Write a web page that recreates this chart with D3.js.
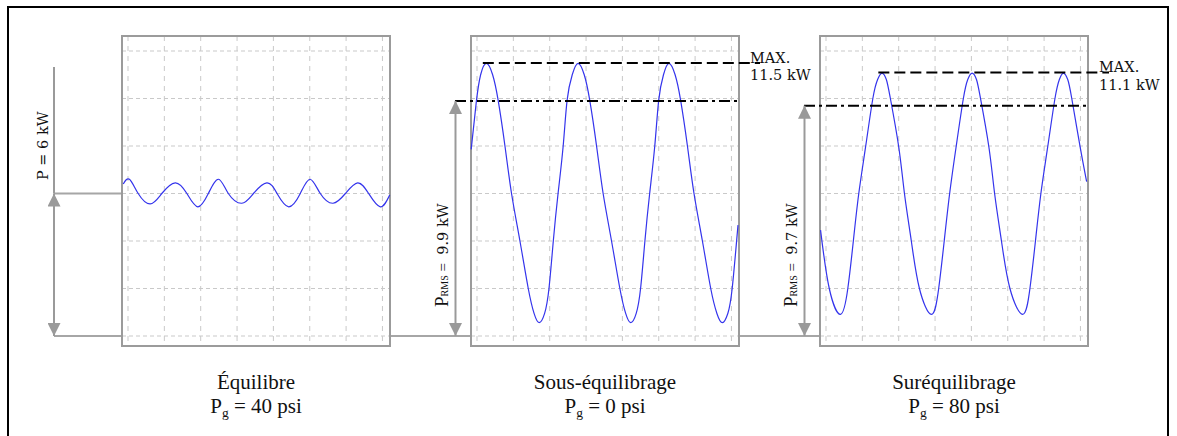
<!DOCTYPE html>
<html>
<head>
<meta charset="utf-8">
<script src="https://cdn.jsdelivr.net/npm/d3@7"></script>
<style>
  html, body { margin: 0; padding: 0; background: #fff; }
  svg { display: block; }
</style>
</head>
<body>
<svg id="chart" width="1177" height="436"></svg>
<script>
// ---- data -------------------------------------------------------------
const panelNames = ["Équilibre", "Sous-équilibrage", "Suréquilibrage"];
const gaugePsi = [40, 0, 80];          // gas pressure P_g, psi
const rmsKW = [6, 9.9, 9.7];           // mean / RMS power, kW
const peakKW = [null, 11.5, 11.1];     // annotated maximum, kW

// power traces: [time in screen divisions, power in kW]
const traceBalanced = [
  [-0.13, 6.4], [0.04, 6.6], [0.28, 6.0], [0.61, 5.56], [0.93, 6.0],
  [1.30, 6.45], [1.62, 6.0], [1.92, 5.44], [2.21, 6.0], [2.49, 6.6],
  [2.76, 6.0], [3.13, 5.59], [3.45, 6.0], [3.82, 6.45], [4.10, 6.0],
  [4.42, 5.44], [4.74, 6.0], [5.01, 6.6], [5.29, 6.0], [5.64, 5.59],
  [5.98, 6.0], [6.32, 6.45], [6.62, 6.0], [6.94, 5.44], [7.20, 5.94]
];
const traceUnder = [
  [-0.16, 7.86], [-0.02, 9.85], [0.10, 11.0], [0.26, 11.48], [0.43, 11.0],
  [0.58, 9.94], [0.77, 7.99], [0.95, 6.0], [1.18, 4.01], [1.41, 2.0],
  [1.57, 0.95], [1.71, 0.56], [1.86, 0.95], [1.98, 2.0], [2.10, 4.01],
  [2.23, 6.0], [2.37, 7.99], [2.48, 9.94], [2.62, 11.0], [2.78, 11.48],
  [2.95, 11.0], [3.10, 9.94], [3.29, 7.99], [3.47, 6.0], [3.70, 4.01],
  [3.93, 2.0], [4.09, 0.95], [4.23, 0.56], [4.38, 0.95], [4.50, 2.0],
  [4.62, 4.01], [4.75, 6.0], [4.89, 7.99], [5.00, 9.94], [5.13, 11.0],
  [5.28, 11.48], [5.45, 11.0], [5.60, 9.94], [5.79, 7.99], [5.97, 6.0],
  [6.20, 4.01], [6.43, 2.0], [6.60, 0.95], [6.75, 0.56], [6.90, 0.95],
  [7.02, 2.0], [7.18, 4.67]
];
const traceOver = [
  [-0.15, 4.46], [0.09, 2.0], [0.40, 0.91], [0.60, 2.0], [0.75, 3.97],
  [0.90, 5.98], [1.09, 7.97], [1.29, 10.01], [1.42, 10.8], [1.54, 11.07],
  [1.66, 10.8], [1.77, 10.01], [2.00, 7.97], [2.16, 5.98], [2.35, 3.97],
  [2.57, 2.0], [2.90, 0.91], [3.10, 2.0], [3.25, 3.97], [3.40, 5.98],
  [3.58, 7.97], [3.78, 10.01], [3.90, 10.8], [4.02, 11.07], [4.14, 10.8],
  [4.25, 10.01], [4.48, 7.97], [4.64, 5.98], [4.83, 3.97], [5.06, 2.0],
  [5.41, 0.91], [5.61, 2.0], [5.76, 3.97], [5.91, 5.98], [6.10, 7.97],
  [6.30, 10.01], [6.42, 10.8], [6.53, 11.07], [6.65, 10.8], [6.76, 10.01],
  [6.99, 7.97], [7.17, 6.5]
];
const traces = [traceBalanced, traceUnder, traceOver];

const gridDivisions = d3.range(0, 8);      // vertical graticule, divisions
const gridLevelsKW = d3.range(0, 13, 2);   // horizontal graticule, kW

// ---- layout -----------------------------------------------------------
const svg = d3.select("#chart");
const boxW = 268, boxTop = 36, boxBottom = 346, gridInset = 6;
const divW = 36.35;

const panelLeft = d3.scaleLinear().domain([0, 2]).range([122, 820]);
const y = d3.scaleLinear().domain([0, 12]).range([336, 51]);

const GRID = "#c9c9c9", BOX = "#9b9b9b", LEAD = "#a6a6a6", ARROW = "#9a9a9a";
const TRACE = "#3434ec";
const SERIF_D = "'DejaVu Serif', serif";
const SERIF_T = "'Liberation Serif', 'Times New Roman', serif";

// arrowhead
svg.append("defs").append("marker")
  .attr("id", "head")
  .attr("viewBox", "0 0 13 13")
  .attr("markerUnits", "userSpaceOnUse")
  .attr("markerWidth", 13).attr("markerHeight", 13)
  .attr("refX", 13).attr("refY", 6.5)
  .attr("orient", "auto-start-reverse")
  .append("path").attr("d", "M0,0L13,6.5L0,13Z").attr("fill", ARROW);

// outer frame
svg.append("rect")
  .attr("x", 8).attr("y", 7).attr("width", 1160).attr("height", 440)
  .attr("fill", "none").attr("stroke", "#000").attr("stroke-width", 2);

// zero-power reference running under all panels
const leaderX = 54;
svg.append("line")
  .attr("x1", leaderX).attr("x2", panelLeft(2))
  .attr("y1", y(0)).attr("y2", y(0))
  .attr("stroke", LEAD).attr("stroke-width", 2);
// mean-power reference for the balanced case
svg.append("line")
  .attr("x1", leaderX).attr("x2", panelLeft(0))
  .attr("y1", y(rmsKW[0])).attr("y2", y(rmsKW[0]))
  .attr("stroke", LEAD).attr("stroke-width", 2);
svg.append("line")
  .attr("x1", leaderX).attr("x2", leaderX)
  .attr("y1", 67).attr("y2", y(rmsKW[0]))
  .attr("stroke", ARROW).attr("stroke-width", 2);
svg.append("line")
  .attr("x1", leaderX).attr("x2", leaderX)
  .attr("y1", y(rmsKW[0])).attr("y2", y(0))
  .attr("stroke", ARROW).attr("stroke-width", 2)
  .attr("marker-start", "url(#head)").attr("marker-end", "url(#head)");
svg.append("text")
  .attr("transform", `translate(${leaderX - 6.5},180) rotate(-90)`)
  .attr("font-family", SERIF_D).attr("font-size", 14.5).attr("fill", "#111")
  .text(`P = ${rmsKW[0]} kW`);

// ---- panels -----------------------------------------------------------
panelNames.forEach((name, i) => {
  const L = panelLeft(i);
  const x = d3.scaleLinear().domain([0, 7]).range([L + gridInset, L + gridInset + 7 * divW]);
  const g = svg.append("g");

  g.append("rect")
    .attr("x", L).attr("y", boxTop).attr("width", boxW).attr("height", boxBottom - boxTop)
    .attr("fill", "#fff");

  g.selectAll("line.gv").data(gridDivisions).join("line")
    .attr("x1", d => x(d)).attr("x2", d => x(d))
    .attr("y1", boxTop).attr("y2", boxBottom)
    .attr("stroke", GRID).attr("stroke-width", 1).attr("stroke-dasharray", "5,5");
  g.selectAll("line.gh").data(gridLevelsKW).join("line")
    .attr("x1", L).attr("x2", L + boxW)
    .attr("y1", d => y(d)).attr("y2", d => y(d))
    .attr("stroke", GRID).attr("stroke-width", 1).attr("stroke-dasharray", "4,3");

  g.append("rect")
    .attr("x", L).attr("y", boxTop).attr("width", boxW).attr("height", boxBottom - boxTop)
    .attr("fill", "none").attr("stroke", BOX).attr("stroke-width", 2);

  const line = d3.line().x(d => x(d[0])).y(d => y(d[1])).curve(d3.curveNatural);
  g.append("path").datum(traces[i])
    .attr("d", line).attr("fill", "none")
    .attr("stroke", TRACE).attr("stroke-width", 1.2);

  // caption
  const cx = L + boxW / 2;
  g.append("text")
    .attr("x", cx).attr("y", 389).attr("text-anchor", "middle")
    .attr("font-family", SERIF_T).attr("font-size", 21).attr("fill", "#111")
    .text(name);
  const cap = g.append("text")
    .attr("x", cx).attr("y", 413).attr("text-anchor", "middle")
    .attr("font-family", SERIF_T).attr("font-size", 21).attr("fill", "#111");
  cap.append("tspan").text("P");
  cap.append("tspan").attr("font-size", 13.5).attr("dy", 4).text("g");
  cap.append("tspan").attr("dy", -4).text(` = ${gaugePsi[i]} psi`);

  if (i === 0) return;

  // RMS level and its dimension arrow
  const ax = L - 15.5;
  g.append("line")
    .attr("x1", ax - 0.5).attr("x2", L + boxW)
    .attr("y1", y(rmsKW[i])).attr("y2", y(rmsKW[i]))
    .attr("stroke", "#000").attr("stroke-width", 2)
    .attr("stroke-dasharray", "11,4,3,4");
  g.append("line")
    .attr("x1", ax).attr("x2", ax)
    .attr("y1", y(rmsKW[i])).attr("y2", y(0))
    .attr("stroke", ARROW).attr("stroke-width", 2)
    .attr("marker-start", "url(#head)").attr("marker-end", "url(#head)");
  const rl = g.append("text")
    .attr("transform", `translate(${ax - 7.5},307) rotate(-90)`)
    .attr("fill", "#111");
  rl.append("tspan").attr("font-family", SERIF_T).attr("font-size", 19).text("P");
  rl.append("tspan").attr("font-family", SERIF_T).attr("font-size", 10).text("RMS");
  rl.append("tspan").attr("font-family", SERIF_T).attr("font-size", 15).text(" = ");
  rl.append("tspan").attr("font-family", SERIF_D).attr("font-size", 14.5).text(`\u00a0${rmsKW[i]} kW`);

  // maximum level
  const firstPeak = traces[i].find(d => d[1] === d3.max(traces[i], p => p[1]));
  g.append("line")
    .attr("x1", x(firstPeak[0] - 0.1)).attr("x2", L + boxW + 21)
    .attr("y1", y(peakKW[i])).attr("y2", y(peakKW[i]))
    .attr("stroke", "#000").attr("stroke-width", 2)
    .attr("stroke-dasharray", "11,5");
  const mt = g.append("text")
    .attr("x", L + boxW + 11).attr("y", y(peakKW[i]))
    .attr("font-family", SERIF_D).attr("font-size", 14.5).attr("fill", "#111");
  mt.append("tspan").text("MAX.");
  mt.append("tspan").attr("x", L + boxW + 11).attr("dy", 17.5).text(`${peakKW[i]} kW`);
});
</script>
</body>
</html>
